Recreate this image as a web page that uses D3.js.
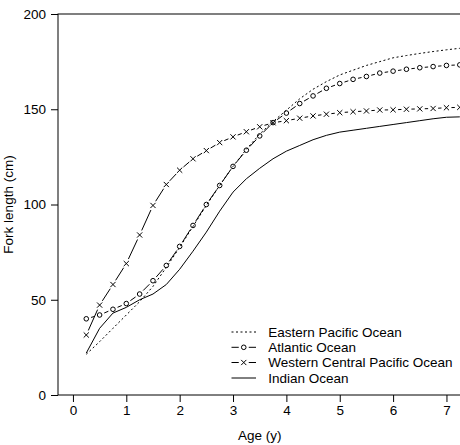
<!DOCTYPE html>
<html>
<head>
<meta charset="utf-8">
<script src="https://cdn.jsdelivr.net/npm/d3@7"></script>
<style>
  body { margin: 0; background: #fff; }
  svg text { font-family: "Liberation Sans", Arial, sans-serif; font-size: 13.5px; fill: #000; }
</style>
</head>
<body>
<svg id="chart"></svg>
<script>
// age classes (years)
var ages = [0.25, 0.5, 0.75, 1, 1.25, 1.5, 1.75, 2, 2.25, 2.5, 2.75, 3, 3.25, 3.5, 3.75,
            4, 4.25, 4.5, 4.75, 5, 5.25, 5.5, 5.75, 6, 6.25, 6.5, 6.75, 7, 7.25];

// fork length (cm) per ocean
var eastPacific = [21.4, 28, 35, 42, 49, 57, 67, 77.5, 88.5, 99.5, 110, 120, 129, 137, 143.5,
                   149.5, 155.5, 160.5, 164.5, 168, 170.5, 173, 175, 177, 178.2, 179.3, 180.3, 181.2, 182];
var atlantic = [40, 42, 45, 48, 53, 60, 68, 78, 89, 100, 110, 120, 128.5, 136, 143,
                148, 153, 157, 161, 163.5, 165.7, 167.2, 169, 170, 171, 171.8, 172.4, 173, 173.3];
var westCentralPacific = [31.5, 47.2, 58, 69, 84, 99.5, 110.5, 118, 124, 128.3, 132.5, 135.5, 138.2, 140.8, 142.9,
                          144, 145.3, 146.5, 147.4, 148.2, 148.7, 149.1, 149.6, 149.7, 150, 150.2, 150.4, 150.8, 151];
var indian = [22, 35, 43, 46, 50, 53, 58, 66, 75.5, 85.5, 96.5, 106.5, 113.5, 119, 124,
              128, 131, 134, 136.3, 138, 139, 140, 141, 142, 143, 144, 145, 145.8, 146];

var xTicks = [0, 1, 2, 3, 4, 5, 6, 7];
var yTicks = [0, 50, 100, 150, 200];
var seriesNames = ["Eastern Pacific Ocean", "Atlantic Ocean", "Western Central Pacific Ocean", "Indian Ocean"];

var W = 460, H = 445;
var pLeft = 58, pTop = 14, pRight = 461.4, pBottom = 395;

var svg = d3.select("#chart").attr("width", W).attr("height", H);

var x = d3.scaleLinear().domain([-0.28, 7.28]).range([pLeft, pRight]);
var y = d3.scaleLinear().domain([0, 200]).range([pBottom, pTop]);

// frame
svg.append("rect")
	.attr("x", pLeft).attr("y", pTop)
	.attr("width", pRight - pLeft).attr("height", pBottom - pTop)
	.attr("fill", "none").attr("stroke", "#000").attr("stroke-width", 1);

// axes
var xAxis = svg.append("g")
	.attr("transform", "translate(0," + pBottom + ")")
	.call(d3.axisBottom(x).tickValues(xTicks).tickSize(7).tickPadding(3).tickFormat(d3.format("d")));
var yAxis = svg.append("g")
	.attr("transform", "translate(" + pLeft + ",0)")
	.call(d3.axisLeft(y).tickValues(yTicks).tickSize(7).tickPadding(5).tickFormat(d3.format("d")));
[xAxis, yAxis].forEach(function(a) {
	a.select(".domain").remove();
	a.selectAll("line").attr("stroke", "#000");
	a.selectAll("text").attr("font-size", null).attr("font-family", null);
});

svg.append("text")
	.attr("x", (pLeft + pRight) / 2).attr("y", 440)
	.attr("text-anchor", "middle").text("Age (y)");
svg.append("text")
	.attr("transform", "translate(13," + ((pTop + pBottom) / 2) + ") rotate(-90)")
	.attr("text-anchor", "middle").text("Fork length (cm)");

var plot = svg.append("g");

function pts(vals) {
	return ages.map(function(a, i) { return [x(a), y(vals[i])]; });
}

// R type="b": segments with a gap around every point
function gappedLines(vals, gap) {
	var p = pts(vals);
	for (var i = 0; i < p.length - 1; i++) {
		var dx = p[i + 1][0] - p[i][0], dy = p[i + 1][1] - p[i][1];
		var len = Math.sqrt(dx * dx + dy * dy);
		if (len <= 2 * gap) continue;
		var ux = dx / len, uy = dy / len;
		plot.append("line")
			.attr("x1", p[i][0] + ux * gap).attr("y1", p[i][1] + uy * gap)
			.attr("x2", p[i + 1][0] - ux * gap).attr("y2", p[i + 1][1] - uy * gap)
			.attr("stroke", "#000").attr("stroke-width", 1);
	}
}

function circleMark(g, cx, cy) {
	g.append("circle").attr("cx", cx).attr("cy", cy).attr("r", 2.3)
		.attr("fill", "none").attr("stroke", "#000").attr("stroke-width", 1);
}
function crossMark(g, cx, cy) {
	var s = 2.6;
	g.append("path")
		.attr("d", "M" + (cx - s) + "," + (cy - s) + "L" + (cx + s) + "," + (cy + s) +
			"M" + (cx - s) + "," + (cy + s) + "L" + (cx + s) + "," + (cy - s))
		.attr("stroke", "#000").attr("stroke-width", 1).attr("fill", "none");
}

var line = d3.line().x(function(d) { return d[0]; }).y(function(d) { return d[1]; });

// Eastern Pacific: dotted
plot.append("path").datum(pts(eastPacific)).attr("d", line)
	.attr("fill", "none").attr("stroke", "#000").attr("stroke-width", 1)
	.attr("stroke-dasharray", "2,2.5");

// Indian: solid
plot.append("path").datum(pts(indian)).attr("d", line)
	.attr("fill", "none").attr("stroke", "#000").attr("stroke-width", 1);

// Atlantic: line + circles
gappedLines(atlantic, 5);
pts(atlantic).forEach(function(p) { circleMark(plot, p[0], p[1]); });

// Western Central Pacific: line + crosses
gappedLines(westCentralPacific, 5);
pts(westCentralPacific).forEach(function(p) { crossMark(plot, p[0], p[1]); });

// legend
var legend = svg.append("g");
var rowY = [332, 347.3, 362.5, 378];
var sx1 = 231.5, sx2 = 256, sxm = (sx1 + sx2) / 2;
seriesNames.forEach(function(name, i) {
	var yy = rowY[i];
	if (i === 0) {
		legend.append("line").attr("x1", sx1).attr("x2", sx2).attr("y1", yy).attr("y2", yy)
			.attr("stroke", "#000").attr("stroke-dasharray", "2,2.5");
	} else if (i === 3) {
		legend.append("line").attr("x1", sx1).attr("x2", sx2).attr("y1", yy).attr("y2", yy)
			.attr("stroke", "#000");
	} else {
		legend.append("line").attr("x1", sx1).attr("x2", sxm - 5).attr("y1", yy).attr("y2", yy).attr("stroke", "#000");
		legend.append("line").attr("x1", sxm + 5).attr("x2", sx2).attr("y1", yy).attr("y2", yy).attr("stroke", "#000");
		if (i === 1) circleMark(legend, sxm, yy); else crossMark(legend, sxm, yy);
	}
	legend.append("text").attr("x", 268.3).attr("y", yy).attr("dy", "0.36em").text(name);
});
</script>
</body>
</html>
